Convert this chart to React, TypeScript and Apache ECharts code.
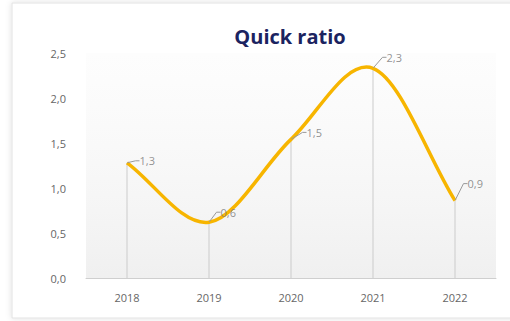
import React, { useEffect, useRef } from "react";
import * as echarts from "echarts";

const categories = ["2018", "2019", "2020", "2021", "2022"];
const values = [1.28, 0.62, 1.54, 2.33, 0.86];
const yTicks = [0, 0.5, 1, 1.5, 2, 2.5];

const labelDx = [12, 11, 15, 13, 12];
const labelDy = [-2, -10, -7, -11, -17];

export default function App() {
  const ref = useRef<HTMLDivElement>(null);
  useEffect(() => {
    const chart = echarts.init(ref.current!, null, { renderer: "svg" });
    const fmt = (v: number) => (Math.round(v * 10) / 10).toFixed(1).replace(".", ",");
    chart.setOption({
      animation: false,
      backgroundColor: "#ffffff",
      textStyle: { fontFamily: "Open Sans" },
      graphic: [
        {
          type: "rect",
          z: -10,
          silent: true,
          shape: { x: 12, y: 3, width: 520, height: 315 },
          style: { fill: "#ffffff", stroke: "#e2e2e2", lineWidth: 1, shadowBlur: 6, shadowColor: "rgba(0,0,0,0.12)" },
        },
      ],
      title: {
        text: "Quick ratio",
        left: 285,
        textAlign: "center",
        top: 21,
        textStyle: { fontSize: 20, fontWeight: "bold", color: "#1b2360", fontFamily: "Open Sans" },
      },
      grid: {
        left: 86,
        right: 14,
        top: 53,
        bottom: 43,
        show: true,
        borderWidth: 0,
        backgroundColor: new echarts.graphic.LinearGradient(0, 0, 0, 1, [
          { offset: 0, color: "rgba(250,250,250,0.4)" },
          { offset: 1, color: "rgba(238,238,238,0.9)" },
        ]),
      },
      xAxis: {
        type: "category",
        data: categories,
        boundaryGap: true,
        axisLine: { lineStyle: { color: "#cfcfcf" } },
        axisTick: { show: false },
        axisLabel: { color: "#666", fontSize: 11, margin: 14 },
      },
      yAxis: {
        type: "value",
        min: 0,
        max: 2.5,
        interval: 0.5,
        splitLine: { show: false },
        axisLine: { show: false },
        axisTick: { show: false },
        axisLabel: {
          color: "#666",
          fontSize: 11,
          margin: 20,
          formatter: (v: number) => (yTicks.includes(v) ? fmt(v) : ""),
        },
      },
      series: [
        {
          type: "bar",
          data: values,
          barWidth: 1,
          itemStyle: { color: "#cccccc" },
          silent: true,
          z: 1,
        },
        {
          type: "custom",
          data: values,
          z: 3,
          silent: true,
          renderItem: (params: any, api: any) => {
            if (params.dataIndex !== 0) return null;
            const pts = values.map((v, i) => api.coord([i, v]));
            const n = pts.length;
            const tan = pts.map((p: number[], i: number) => {
              const a = pts[Math.max(0, i - 1)];
              const b = pts[Math.min(n - 1, i + 1)];
              const k = i === 0 || i === n - 1 ? 1 : 0.5;
              return [(b[0] - a[0]) * k, (b[1] - a[1]) * k];
            });
            let d = `M${pts[0][0]},${pts[0][1]}`;
            for (let i = 0; i < n - 1; i++) {
              const c1 = [pts[i][0] + tan[i][0] / 3, pts[i][1] + tan[i][1] / 3];
              const c2 = [pts[i + 1][0] - tan[i + 1][0] / 3, pts[i + 1][1] - tan[i + 1][1] / 3];
              d += ` C${c1[0]},${c1[1]} ${c2[0]},${c2[1]} ${pts[i + 1][0]},${pts[i + 1][1]}`;
            }
            return {
              type: "path",
              shape: { pathData: d },
              style: { fill: "none", stroke: "#f7b500", lineWidth: 3.5 },
            };
          },
        },
        {
          type: "scatter",
          data: values,
          symbolSize: 1,
          itemStyle: { color: "rgba(0,0,0,0)" },
          z: 4,
          silent: true,
          label: {
            show: true,
            position: "right",
            color: "#777",
            fontSize: 11,
            distance: 0,
            formatter: (p: any) => fmt(p.value),
          },
          labelLayout: (params: any) => ({
            dx: labelDx[params.dataIndex],
            dy: labelDy[params.dataIndex],
          }),
          labelLine: {
            show: true,
            length2: 4,
            lineStyle: { color: "#999", width: 1 },
          },
        },
      ],
    });
    return () => chart.dispose();
  }, []);
  return (
    <div style={{ position: "absolute", left: 0, top: 0, width: 510, height: 321 }}>
      <div ref={ref} style={{ width: 510, height: 321 }} />
    </div>
  );
}
